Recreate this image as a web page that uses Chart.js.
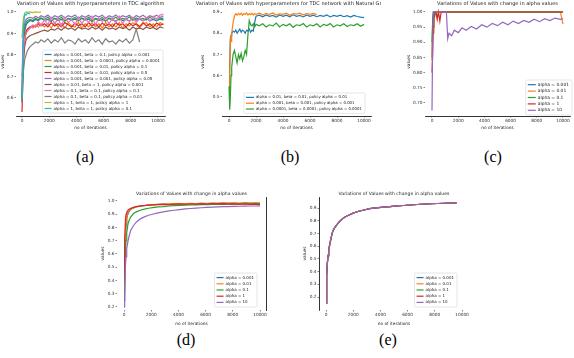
<!DOCTYPE html>
<html>
<head>
<meta charset="utf-8">
<script src="https://cdn.jsdelivr.net/npm/chart.js"></script>
<style>
  body { margin: 0; background: #fff; }
  #fig { position: relative; width: 574px; height: 358px; overflow: hidden; }
  #fig canvas { position: absolute; }
  .cap { position: absolute; width: 40px; text-align: center; font: 16px "Liberation Serif", serif; line-height: 20px; color: #000; }
</style>
</head>
<body>
<div id="fig">
  <canvas id="chartA" width="172" height="130" style="left:0px;top:0px;width:172px;height:130px"></canvas>
  <canvas id="chartB" width="191" height="130" style="left:190px;top:0px;width:191px;height:130px"></canvas>
  <canvas id="chartC" width="193" height="130" style="left:381px;top:0px;width:193px;height:130px"></canvas>
  <canvas id="chartD" width="180" height="140" style="left:92px;top:186px;width:180px;height:140px"></canvas>
  <canvas id="chartE" width="182" height="140" style="left:290px;top:186px;width:182px;height:140px"></canvas>
  <div class="cap" style="left:65px;top:147px">(a)</div>
  <div class="cap" style="left:270px;top:147px">(b)</div>
  <div class="cap" style="left:473px;top:147px">(c)</div>
  <div class="cap" style="left:166px;top:330px">(d)</div>
  <div class="cap" style="left:368px;top:330px">(e)</div>
</div>
<script>
// tick values
const xTickValues = [0, 2000, 4000, 6000, 8000, 10000];
const yTicksA = [0.6, 0.7, 0.8, 0.9, 1.0];
const yTicksB = [0.5, 0.6, 0.7, 0.8, 0.9];
const yTicksC = [0.7, 0.75, 0.8, 0.85, 0.9, 0.95, 1.0];
const yTicksD = [0.2, 0.3, 0.4, 0.5, 0.6, 0.7, 0.8, 0.9, 1.0];
const yTicksE = [0.2, 0.3, 0.4, 0.5, 0.6, 0.7, 0.8, 0.9];

// matplotlib tab10
const colors = ["#1f77b4", "#ff7f0e", "#2ca02c", "#d62728", "#9467bd", "#8c564b", "#e377c2", "#7f7f7f", "#bcbd22", "#17becf"];

// ---- (a) TDC hyperparameters ----
const labelsA = [
  "alpha = 0.001, beta = 0.1, policy alpha = 0.001",
  "alpha = 0.001, beta = 0.0001, policy alpha = 0.0001",
  "alpha = 0.001, beta = 0.01, policy alpha = 0.1",
  "alpha = 0.001, beta = 0.01, policy alpha = 0.5",
  "alpha = 0.001, beta = 0.001, policy alpha = 0.05",
  "alpha = 0.01, beta = 1, policy alpha = 0.001",
  "alpha = 0.1, beta = 0.1, policy alpha = 0.1",
  "alpha = 0.1, beta = 0.1, policy alpha = 0.01",
  "alpha = 1, beta = 1, policy alpha = 1",
  "alpha = 1, beta = 1, policy alpha = 0.1",
];
const xA = [0, 100, 200, 300, 400, 600, 800, 1000, 1200, 1400, 1650, 1900, 2150, 2400, 2650, 2900, 3150, 3400, 3650, 3900,
  4150, 4400, 4650, 4900, 5150, 5400, 5650, 5900, 6150, 6400, 6650, 6900, 7150, 7400, 7650, 7900, 8150, 8400, 8650, 8900,
  9150, 9400, 9650, 9900, 10150, 10400];
const aBlue = [0.62, 0.84, 0.91, 0.94, 0.95, 0.96, 0.955, 0.965, 0.96, 0.97,
  0.96, 0.965, 0.955, 0.97, 0.96, 0.965, 0.958, 0.97, 0.962, 0.966,
  0.958, 0.97, 0.962, 0.967, 0.955, 0.968, 0.96, 0.965, 0.958, 0.97,
  0.963, 0.957, 0.968, 0.96, 0.965, 0.958, 0.97, 0.962, 0.966, 0.958,
  0.968, 0.96, 0.965, 0.958, 0.967, 0.962];
const aOrange = [0.66, 0.8, 0.87, 0.9, 0.92, 0.93, 0.925, 0.94, 0.93, 0.945,
  0.93, 0.945, 0.925, 0.95, 0.93, 0.945, 0.925, 0.95, 0.935, 0.93,
  0.95, 0.925, 0.945, 0.93, 0.95, 0.93, 0.945, 0.925, 0.95, 0.93,
  0.945, 0.93, 0.95, 0.925, 0.945, 0.935, 0.95, 0.94, 0.925, 0.945,
  0.95, 0.93, 0.945, 0.93, 0.95, 0.94];
const aGreen = [0.58, 0.86, 0.93, 0.95, 0.96, 0.965, 0.96, 0.97, 0.962, 0.972,
  0.965, 0.975, 0.96, 0.97, 0.965, 0.975, 0.958, 0.97, 0.966, 0.974,
  0.96, 0.972, 0.965, 0.975, 0.96, 0.97, 0.966, 0.974, 0.958, 0.972,
  0.965, 0.975, 0.962, 0.97, 0.966, 0.976, 0.96, 0.972, 0.965, 0.97,
  0.962, 0.975, 0.965, 0.97, 0.966, 0.972];
const aRed = [0.535, 0.76, 0.87, 0.91, 0.92, 0.93, 0.935, 0.93, 0.945, 0.935,
  0.945, 0.93, 0.95, 0.935, 0.945, 0.93, 0.95, 0.94, 0.93, 0.948,
  0.935, 0.945, 0.93, 0.95, 0.935, 0.945, 0.93, 0.948, 0.935, 0.945,
  0.93, 0.95, 0.938, 0.945, 0.93, 0.948, 0.935, 0.945, 0.932, 0.95,
  0.935, 0.945, 0.93, 0.948, 0.938, 0.945];
const aPurple = [0.7, 0.9, 0.95, 0.965, 0.97, 0.975, 0.97, 0.98, 0.972, 0.982,
  0.975, 0.985, 0.97, 0.982, 0.975, 0.985, 0.972, 0.982, 0.976, 0.986,
  0.97, 0.982, 0.975, 0.985, 0.972, 0.983, 0.976, 0.985, 0.97, 0.982,
  0.975, 0.986, 0.972, 0.982, 0.976, 0.985, 0.97, 0.983, 0.975, 0.985,
  0.972, 0.982, 0.976, 0.985, 0.974, 0.982];
const aBrown = [0.6, 0.78, 0.84, 0.87, 0.88, 0.89, 0.895, 0.9, 0.905, 0.91,
  0.915, 0.91, 0.92, 0.915, 0.925, 0.915, 0.93, 0.92, 0.925, 0.915,
  0.93, 0.92, 0.925, 0.918, 0.93, 0.92, 0.928, 0.915, 0.93, 0.92,
  0.925, 0.918, 0.93, 0.922, 0.928, 0.915, 0.93, 0.92, 0.926, 0.918,
  0.93, 0.922, 0.928, 0.918, 0.93, 0.925];
const aPink = [0.65, 0.82, 0.88, 0.9, 0.91, 0.925, 0.94, 0.93, 0.955, 0.935,
  0.965, 0.94, 0.975, 0.945, 0.97, 0.935, 0.975, 0.95, 0.965, 0.94,
  0.975, 0.945, 0.97, 0.95, 0.98, 0.94, 0.97, 0.955, 0.975, 0.945,
  0.97, 0.95, 0.98, 0.945, 0.97, 0.955, 0.975, 0.95, 0.97, 0.96,
  0.975, 0.955, 0.98, 0.965, 0.985, 0.99];
const aGray = [0.58, 0.72, 0.78, 0.8, 0.82, 0.84, 0.85, 0.86, 0.855, 0.87,
  0.86, 0.875, 0.855, 0.87, 0.86, 0.88, 0.855, 0.87, 0.865, 0.85,
  0.875, 0.86, 0.87, 0.855, 0.88, 0.86, 0.87, 0.85, 0.875, 0.86,
  0.865, 0.85, 0.87, 0.86, 0.875, 0.855, 0.87, 0.92, 0.86];
const aOlive = [0.88, 0.97, 0.995, 1.0, 0.998, 1.0, 0.997, 1.0, 0.998, 1.0];
const aCyan = [0.6, 0.93, 0.99, 0.985, 0.995, 0.99];

// ---- (b) TDC with natural gradient ----
const labelsB = [
  "alpha = 0.01, beta = 0.01, policy alpha = 0.01",
  "alpha = 0.001, beta = 0.001, policy alpha = 0.001",
  "alpha = 0.0001, beta = 0.0001, policy alpha = 0.0001",
];
const xB = [0, 50, 100, 150, 200, 300, 400, 500, 600, 700, 800, 900, 1000, 1100, 1200, 1300, 1400, 1500, 1600, 1700,
  1800, 1900, 2000, 2250, 2500, 2750, 3000, 3250, 3500, 3750, 4000, 4250, 4500, 4750, 5000, 5250, 5500, 5750, 6000, 6250,
  6500, 6750, 7000, 7250, 7500, 7750, 8000, 8250, 8500, 8750, 9000, 9250, 9500, 9750, 10000];
const bBlue = [0.52, 0.64, 0.77, 0.79, 0.8, 0.81, 0.805, 0.815, 0.8, 0.81,
  0.82, 0.805, 0.815, 0.81, 0.8, 0.815, 0.81, 0.82, 0.805, 0.815,
  0.81, 0.85, 0.88, 0.885, 0.878, 0.886, 0.88, 0.884, 0.876, 0.886,
  0.88, 0.885, 0.878, 0.887, 0.88, 0.884, 0.877, 0.886, 0.88, 0.885,
  0.878, 0.884, 0.88, 0.886, 0.877, 0.884, 0.88, 0.885, 0.878, 0.883,
  0.876, 0.884, 0.879, 0.876, 0.874];
const bOrange = [0.455, 0.62, 0.78, 0.76, 0.8, 0.85, 0.88, 0.892, 0.886, 0.894,
  0.888, 0.895, 0.885, 0.893, 0.889, 0.896, 0.886, 0.892, 0.888, 0.895,
  0.886, 0.893, 0.889, 0.895, 0.887, 0.893, 0.889, 0.896, 0.886, 0.892,
  0.889, 0.895, 0.885, 0.893, 0.89, 0.895, 0.887, 0.893, 0.889, 0.894,
  0.888];
const bGreen = [0.55, 0.44, 0.5, 0.6, 0.64, 0.7, 0.72, 0.69, 0.66, 0.7,
  0.68, 0.705, 0.67, 0.69, 0.72, 0.7, 0.79, 0.86, 0.84, 0.835,
  0.845, 0.83, 0.842, 0.835, 0.845, 0.83, 0.84, 0.835, 0.848, 0.83,
  0.842, 0.835, 0.845, 0.828, 0.84, 0.836, 0.846, 0.83, 0.84, 0.835,
  0.845, 0.83, 0.842, 0.836, 0.846, 0.83, 0.84, 0.835, 0.845, 0.832,
  0.84, 0.836, 0.845, 0.833, 0.842];

// ---- (c) change in alpha ----
const labelsAlpha = ["alpha = 0.001", "alpha = 0.01", "alpha = 0.1", "alpha = 1", "alpha = 10"];
const xC = [0, 50, 100, 150, 200, 300, 400, 500, 600, 700, 800, 900, 1000, 1100, 1200, 1300, 1500, 1700, 2000, 2300,
  2600, 3000, 3400, 3800, 4200, 4600, 5000, 5400, 5800, 6200, 6600, 7000, 7400, 7800, 8200, 8600, 9000, 9400, 9800, 10000];
const cBlue = [0.85, 0.98, 1, 1, 1, 1, 1, 1, 1, 1, 1, 1, 1, 1, 1, 1, 1, 1, 1, 1,
  1, 1, 1, 1, 1, 1, 1, 1, 1, 1, 1, 1, 1, 1, 1, 1, 1, 1, 1, 1];
const cOrange = [0.84, 0.95, 0.93, 0.99, 1, 1, 0.985, 1, 1, 1, 1, 1, 1, 1, 1, 1, 1, 1, 1, 1,
  1, 1, 1, 1, 1, 1, 1, 1, 1, 1, 1, 1, 1, 1, 1, 1, 1, 1, 1, 0.96];
const cGreen = [0.9, 0.96, 0.99, 1, 0.985, 1, 1, 1, 1, 1, 1, 1, 1, 1, 1, 1, 1, 1, 1, 1,
  1, 1, 1, 1, 1, 1, 1, 1, 1, 1, 1, 1, 1, 1, 1, 1, 1, 1, 1, 1];
const cRed = [0.8, 0.86, 0.95, 1, 1, 1, 0.975, 1, 0.97, 1, 1, 1, 1, 1, 1, 1, 1, 1, 1, 1,
  1, 1, 1, 1, 1, 1, 1, 1, 1, 1, 1, 1, 1, 1, 1, 1, 1, 1, 1, 1];
const cPurple = [0.675, 0.9, 1, 1, 1, 1, 1, 1, 1, 1,
  1, 1, 1, 1, 0.912, 0.93, 0.922, 0.94, 0.932, 0.948,
  0.94, 0.952, 0.944, 0.958, 0.95, 0.962, 0.955, 0.966, 0.958, 0.97,
  0.962, 0.972, 0.966, 0.976, 0.968, 0.978, 0.972, 0.98, 0.976, 0.978];

// ---- (d) change in alpha ----
const xD = [0, 50, 100, 150, 200, 300, 400, 500, 700, 900, 1200, 1500, 1800, 2100, 2500, 2900, 3300, 3700, 4100, 4500,
  4900, 5300, 5700, 6100, 6500, 6900, 7300, 7700, 8100, 8500, 8900, 9300, 9700, 10000];
const dBlue = [0.25, 0.5, 0.72, 0.82, 0.87, 0.905, 0.925, 0.935, 0.948, 0.955,
  0.96, 0.965, 0.968, 0.971, 0.974, 0.976, 0.977, 0.979, 0.978, 0.98,
  0.981, 0.98, 0.982, 0.981, 0.983, 0.982, 0.984, 0.983, 0.984, 0.982,
  0.985, 0.983, 0.984, 0.983];
const dOrange = [0.3, 0.55, 0.75, 0.84, 0.88, 0.915, 0.93, 0.94, 0.95, 0.957,
  0.962, 0.966, 0.97, 0.972, 0.975, 0.977, 0.978, 0.98, 0.979, 0.981,
  0.982, 0.98, 0.983, 0.982, 0.984, 0.983, 0.985, 0.984, 0.985, 0.983,
  0.986, 0.984, 0.985, 0.984];
const dGreen = [0.33, 0.5, 0.62, 0.7, 0.76, 0.83, 0.86, 0.88, 0.905, 0.918,
  0.93, 0.938, 0.945, 0.95, 0.955, 0.958, 0.962, 0.965, 0.966, 0.968,
  0.97, 0.971, 0.972, 0.973, 0.974, 0.974, 0.975, 0.976, 0.976, 0.977,
  0.977, 0.978, 0.978, 0.978];
const dRed = [0.4, 0.7, 0.85, 0.9, 0.915, 0.93, 0.94, 0.945, 0.952, 0.958,
  0.963, 0.966, 0.968, 0.97, 0.972, 0.974, 0.97, 0.976, 0.978, 0.974,
  0.979, 0.976, 0.98, 0.977, 0.981, 0.978, 0.98, 0.976, 0.978, 0.975,
  0.978, 0.974, 0.976, 0.973];
const dPurple = [0.2, 0.35, 0.5, 0.58, 0.64, 0.7, 0.745, 0.78, 0.815, 0.84,
  0.865, 0.88, 0.892, 0.9, 0.91, 0.918, 0.925, 0.93, 0.935, 0.94,
  0.943, 0.946, 0.949, 0.951, 0.953, 0.955, 0.957, 0.958, 0.959, 0.96,
  0.961, 0.962, 0.962, 0.963];

// ---- (e) change in alpha ----
const xE = [0, 50, 100, 150, 200, 300, 400, 500, 600, 800, 1000, 1200, 1400, 1700, 2000, 2400, 2800, 3200, 3700, 4200,
  4700, 5200, 5700, 6200, 6700, 7200, 7700, 8200, 8700, 9200, 9600];
const eBlue = [0.16, 0.37, 0.47, 0.53, 0.575, 0.63, 0.68, 0.72, 0.74, 0.77,
  0.795, 0.815, 0.83, 0.845, 0.86, 0.875, 0.885, 0.895, 0.902, 0.908,
  0.912, 0.917, 0.92, 0.924, 0.928, 0.931, 0.934, 0.936, 0.938, 0.94, 0.941];
const eOrange = [0.15, 0.38, 0.47, 0.53, 0.57, 0.63, 0.68, 0.72, 0.74, 0.77,
  0.795, 0.815, 0.83, 0.845, 0.86, 0.875, 0.885, 0.895, 0.902, 0.908,
  0.912, 0.917, 0.92, 0.924, 0.928, 0.931, 0.934, 0.936, 0.938, 0.94, 0.941];
const eGreen = [0.15, 0.36, 0.46, 0.52, 0.565, 0.62, 0.675, 0.715, 0.738, 0.768,
  0.793, 0.814, 0.83, 0.845, 0.86, 0.875, 0.885, 0.895, 0.902, 0.908,
  0.912, 0.917, 0.92, 0.924, 0.928, 0.931, 0.934, 0.936, 0.938, 0.94, 0.941];
const eRed = [0.15, 0.37, 0.465, 0.525, 0.57, 0.625, 0.678, 0.718, 0.739, 0.769,
  0.794, 0.815, 0.83, 0.845, 0.86, 0.875, 0.885, 0.895, 0.902, 0.908,
  0.912, 0.917, 0.92, 0.924, 0.928, 0.931, 0.934, 0.936, 0.938, 0.94, 0.941];
const ePurple = [0.15, 0.38, 0.47, 0.53, 0.57, 0.63, 0.68, 0.72, 0.74, 0.77,
  0.795, 0.815, 0.83, 0.845, 0.86, 0.875, 0.885, 0.895, 0.902, 0.908,
  0.912, 0.917, 0.92, 0.924, 0.928, 0.931, 0.934, 0.936, 0.938, 0.94, 0.941];

Chart.defaults.font.family = "'DejaVu Sans', sans-serif";

// title centred over the plot area, like matplotlib
const panelTitle = {
  id: "panelTitle",
  afterDraw(chart, args, opts) {
    const a = chart.chartArea, ctx = chart.ctx;
    ctx.save();
    ctx.font = opts.size + "px 'DejaVu Sans'";
    ctx.fillStyle = "#222";
    ctx.textAlign = "center";
    ctx.textBaseline = "bottom";
    ctx.fillText(opts.text, (a.left + a.right) / 2, a.top - 1);
    ctx.restore();
  },
};

// legend box inside the plot, anchored at its right edge
const boxLegend = {
  id: "boxLegend",
  afterDatasetsDraw(chart, args, opts) {
    const ctx = chart.ctx, sets = chart.data.datasets;
    ctx.save();
    ctx.font = opts.size + "px 'DejaVu Sans'";
    let tw = 0;
    sets.forEach((ds) => { tw = Math.max(tw, ctx.measureText(ds.label).width); });
    const w = tw + opts.line + 7, h = sets.length * opts.row + 3;
    const x = opts.right - w;
    ctx.fillStyle = "rgba(255,255,255,0.85)";
    ctx.strokeStyle = "#d5d5d5";
    ctx.lineWidth = 0.6;
    ctx.beginPath();
    ctx.roundRect(x, opts.y, w, h, 1.5);
    ctx.fill();
    ctx.stroke();
    ctx.textBaseline = "middle";
    sets.forEach((ds, i) => {
      const cy = opts.y + 1.5 + opts.row * (i + 0.5);
      ctx.strokeStyle = ds.borderColor;
      ctx.lineWidth = 1.2;
      ctx.beginPath();
      ctx.moveTo(x + 2, cy);
      ctx.lineTo(x + 2 + opts.line, cy);
      ctx.stroke();
      ctx.fillStyle = "#222";
      ctx.fillText(ds.label, x + 4 + opts.line, cy);
    });
    ctx.restore();
  },
};

function series(xs, ys, label, color) {
  return {
    label: label,
    borderColor: color,
    backgroundColor: color,
    data: ys.map((y, i) => ({ x: xs[i], y: y })),
    borderWidth: 1.2,
    pointRadius: 0,
    tension: 0,
  };
}

function makePanel(id, p) {
  const tickFont = { size: 4.3 };
  const scales = {
    x: {
      type: "linear",
      min: p.xMin,
      max: p.xMax,
      afterBuildTicks: (s) => { s.ticks = xTickValues.map((v) => ({ value: v })); },
      afterFit: (s) => { s.height = p.xh; },
      ticks: { font: tickFont, color: "#333", padding: 0.5, maxRotation: 0, autoSkip: false, callback: (v) => String(v) },
      grid: { display: true, drawOnChartArea: false, tickLength: 1.5, color: "#333", lineWidth: 0.6 },
      border: { display: p.bottomSpine, color: "#000", width: 0.8 },
      title: { display: true, text: "no of iterations", font: { size: 4.3 }, color: "#222", padding: { top: 3.3, bottom: 0 } },
    },
    y: {
      type: "linear",
      min: p.yMin,
      max: p.yMax,
      afterBuildTicks: (s) => { s.ticks = p.yTicks.map((v) => ({ value: v })); },
      afterFit: (s) => { s.width = p.yw; },
      ticks: { font: tickFont, color: "#333", padding: 1, callback: (v) => v.toFixed(p.dec) },
      grid: { display: true, drawOnChartArea: false, tickLength: 1.5, color: "#333", lineWidth: 0.6 },
      border: { display: p.leftSpine, color: "#000", width: 0.8 },
      title: { display: true, text: "values", font: { size: 4.3 }, color: "#222", padding: { top: p.ytp, bottom: 0 } },
    },
  };
  if (p.rightSpine) {
    scales.y2 = {
      position: "right",
      min: 0,
      max: 1,
      afterFit: (s) => { s.width = 0; },
      ticks: { display: false },
      grid: { display: false },
      border: { display: true, color: "#000", width: 0.8 },
    };
  }
  return new Chart(document.getElementById(id), {
    type: "line",
    data: { datasets: p.datasets.map((d, i) => Object.assign(d, { order: -i })) },
    options: {
      responsive: false,
      animation: false,
      devicePixelRatio: 1,
      layout: { padding: { top: p.top, right: p.right, left: 0, bottom: 0 } },
      plugins: {
        legend: { display: false },
        tooltip: { enabled: false },
        panelTitle: { text: p.title, size: p.titleSize },
        boxLegend: p.legend,
      },
      scales: scales,
    },
    plugins: [panelTitle, boxLegend],
  });
}

makePanel("chartA", {
  title: "Variation of Values with hyperparameters in TDC algorithm", titleSize: 5,
  datasets: [
    series(xA, aBlue, labelsA[0], colors[0]),
    series(xA, aOrange, labelsA[1], colors[1]),
    series(xA, aGreen, labelsA[2], colors[2]),
    series(xA, aRed, labelsA[3], colors[3]),
    series(xA, aPurple, labelsA[4], colors[4]),
    series(xA, aBrown, labelsA[5], colors[5]),
    series(xA, aPink, labelsA[6], colors[6]),
    series(xA, aGray, labelsA[7], colors[7]),
    series(xA, aOlive, labelsA[8], colors[8]),
    series(xA, aCyan, labelsA[9], colors[9]),
  ],
  xMin: -441, xMax: 10515, yMin: 0.516, yMax: 1.02, yTicks: yTicksA, dec: 1,
  yw: 16, xh: 14, top: 7.6, right: 7, ytp: 0.8,
  bottomSpine: true, leftSpine: false,
  legend: { right: 163, y: 50, row: 6, size: 4, line: 7 },
});

makePanel("chartB", {
  title: "Variation of Values with hyperparameters for TDC network with Natural Gradient", titleSize: 5,
  datasets: [
    series(xB, bBlue, labelsB[0], colors[0]),
    series(xB, bOrange, labelsB[1], colors[1]),
    series(xB, bGreen, labelsB[2], colors[2]),
  ],
  xMin: -519, xMax: 10518, yMin: 0.41, yMax: 0.921, yTicks: yTicksB, dec: 1,
  yw: 32, xh: 14, top: 7.6, right: 10, ytp: 10.3,
  bottomSpine: true, leftSpine: false,
  legend: { right: 175, y: 93, row: 5.8, size: 3.9, line: 8 },
});

makePanel("chartC", {
  title: "Variations of Values with change in alpha values", titleSize: 5,
  datasets: [
    series(xC, cBlue, labelsAlpha[0], colors[0]),
    series(xC, cOrange, labelsAlpha[1], colors[1]),
    series(xC, cGreen, labelsAlpha[2], colors[2]),
    series(xC, cRed, labelsAlpha[3], colors[3]),
    series(xC, cPurple, labelsAlpha[4], colors[4]),
  ],
  xMin: -534, xMax: 10535, yMin: 0.657, yMax: 1.0145, yTicks: yTicksC, dec: 2,
  yw: 44, xh: 14, top: 7.6, right: 4, ytp: 25.3,
  bottomSpine: true, leftSpine: false,
  legend: { right: 191, y: 80, row: 6.4, size: 4.4, line: 8 },
});

makePanel("chartD", {
  title: "Variations of Values with change in alpha values", titleSize: 4.6,
  datasets: [
    series(xD, dBlue, labelsAlpha[0], colors[0]),
    series(xD, dOrange, labelsAlpha[1], colors[1]),
    series(xD, dGreen, labelsAlpha[2], colors[2]),
    series(xD, dRed, labelsAlpha[3], colors[3]),
    series(xD, dPurple, labelsAlpha[4], colors[4]),
  ],
  xMin: -515, xMax: 10441, yMin: 0.177, yMax: 1.03, yTicks: yTicksD, dec: 1,
  yw: 25, xh: 16, top: 11, right: 6, ytp: 8.3,
  bottomSpine: false, leftSpine: false, rightSpine: true,
  legend: { right: 165, y: 87, row: 6.2, size: 4, line: 7 },
});

makePanel("chartE", {
  title: "Variations of Values with change in alpha values", titleSize: 4.6,
  datasets: [
    series(xE, eBlue, labelsAlpha[0], colors[0]),
    series(xE, eOrange, labelsAlpha[1], colors[1]),
    series(xE, eGreen, labelsAlpha[2], colors[2]),
    series(xE, eRed, labelsAlpha[3], colors[3]),
    series(xE, ePurple, labelsAlpha[4], colors[4]),
  ],
  xMin: -515, xMax: 10514, yMin: 0.098, yMax: 0.987, yTicks: yTicksE, dec: 1,
  yw: 29, xh: 16, top: 11, right: 3, ytp: 12.3,
  bottomSpine: false, leftSpine: true,
  legend: { right: 167, y: 87, row: 6.2, size: 4, line: 7 },
});
</script>
</body>
</html>
